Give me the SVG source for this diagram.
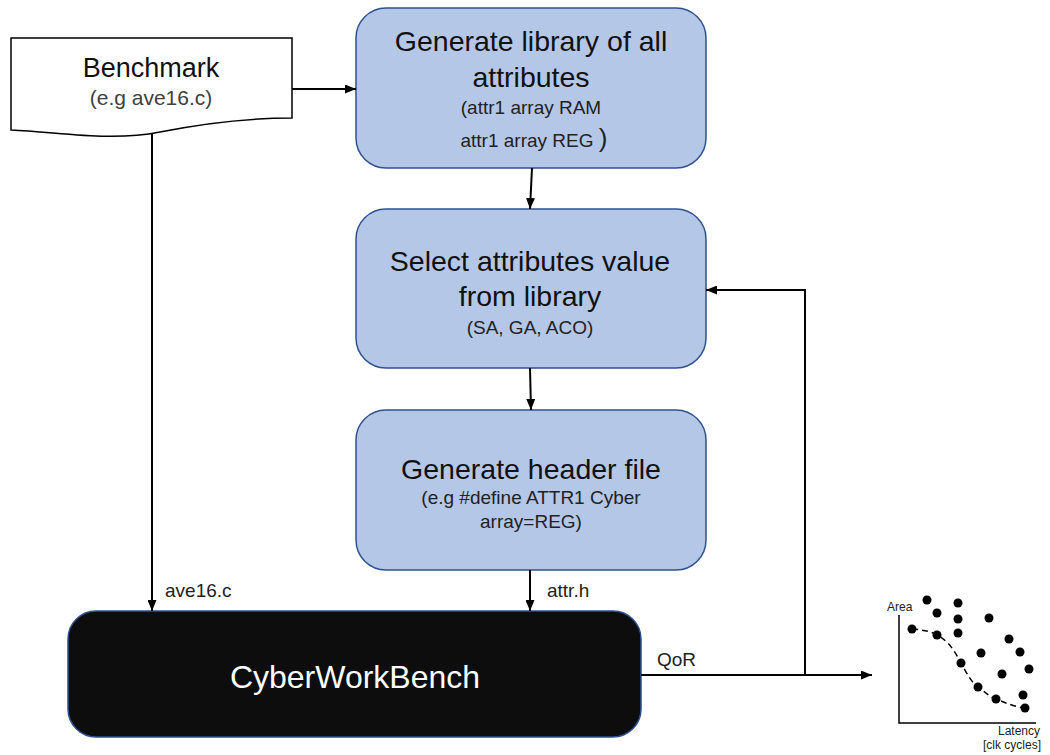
<svg xmlns="http://www.w3.org/2000/svg" width="1050" height="755" viewBox="0 0 1050 755">
<defs>
<marker id="ah" markerWidth="11" markerHeight="9" refX="11" refY="4.5" orient="auto" markerUnits="userSpaceOnUse">
<path d="M0,0 L11,4.5 L0,9 Z" fill="#000"/>
</marker>
<style>
.box{fill:#b4c7e7;stroke:#2f528f;stroke-width:1.5}
.t{font-family:"Liberation Sans",Arial,sans-serif;fill:#111;text-anchor:middle}
.big{font-size:28.5px}
.sm{font-size:19px;fill:#222}
.lbl{font-family:"Liberation Sans",Arial,sans-serif;font-size:19px;fill:#222}
.ln{stroke:#000;stroke-width:2;fill:none}
.dot{fill:#000}
.ct{font-family:"Liberation Sans",Arial,sans-serif;font-size:12px;fill:#222}
</style>
</defs>
<rect width="1050" height="755" fill="#fff"/>

<g id="benchmark">
<path d="M11,38 L292,38 L292,118 C240,118 200,124 160,132 C110,142 60,132 11,130 Z" fill="#fff" stroke="#000" stroke-width="1.5"/>
<text class="t" x="151" y="77" font-size="27">Benchmark</text>
<text class="t sm" x="151" y="105" font-size="21" style="fill:#404040;font-size:21px">(e.g ave16.c)</text>
</g>

<g id="gen-library">
<rect class="box" x="356" y="8" width="350" height="160" rx="30"/>
<text class="t big" x="531" y="51">Generate library of all</text>
<text class="t big" x="531" y="87">attributes</text>
<text class="t sm" x="531" y="114">(attr1 array RAM</text>
<text class="t sm" x="534" y="147">attr1 array REG <tspan font-size="26">)</tspan></text>
</g>

<g id="select-attr">
<rect class="box" x="356" y="209" width="350" height="159" rx="30"/>
<text class="t big" x="530" y="271">Select attributes value</text>
<text class="t big" x="530" y="306">from library</text>
<text class="t sm" x="530" y="334">(SA, GA, ACO)</text>
</g>

<g id="gen-header">
<rect class="box" x="356" y="410" width="350" height="160" rx="30"/>
<text class="t big" x="531" y="479">Generate header file</text>
<text class="t sm" x="531" y="504">(e.g #define ATTR1 Cyber</text>
<text class="t sm" x="531" y="528">array=REG)</text>
</g>

<g id="cyberworkbench">
<rect x="68" y="611" width="573" height="126" rx="28" fill="#0d0d0d" stroke="#2f528f" stroke-width="1.5"/>
<text class="t" x="355" y="688" font-size="32" style="fill:#fff">CyberWorkBench</text>
</g>

<g id="connectors">
<line class="ln" x1="292" y1="89" x2="356" y2="89" marker-end="url(#ah)"/>
<line class="ln" x1="152" y1="134" x2="152" y2="611" marker-end="url(#ah)"/>
<line class="ln" x1="532" y1="168" x2="530" y2="209" marker-end="url(#ah)"/>
<line class="ln" x1="530" y1="368" x2="531" y2="410" marker-end="url(#ah)"/>
<line class="ln" x1="530" y1="570" x2="530" y2="611" marker-end="url(#ah)"/>
<line class="ln" x1="641" y1="675" x2="872" y2="675" marker-end="url(#ah)"/>
<polyline class="ln" points="805,675 805,290 706,290" marker-end="url(#ah)"/>
<text class="lbl" x="165" y="597">ave16.c</text>
<text class="lbl" x="547" y="597">attr.h</text>
<text class="lbl" x="657" y="666">QoR</text>
</g>

<g id="pareto-chart">
<polyline points="899,615 899,723 1036,723" fill="none" stroke="#000" stroke-width="1.5"/>
<path d="M912,629 C925,630 932,632 937,635 C950,642 955,652 961,663 C967,674 972,683 978,687 C985,692 990,697 996,699 C1006,703 1015,707 1025,708" fill="none" stroke="#000" stroke-width="1.5" stroke-dasharray="6,4"/>
<g class="dot">
<circle cx="927" cy="600" r="4.5"/>
<circle cx="937" cy="613" r="4.5"/>
<circle cx="958" cy="603" r="4.5"/>
<circle cx="958" cy="619" r="4.5"/>
<circle cx="989" cy="618" r="4.5"/>
<circle cx="912" cy="629" r="4.5"/>
<circle cx="937" cy="635" r="4.5"/>
<circle cx="958" cy="633" r="4.5"/>
<circle cx="1009" cy="639" r="4.5"/>
<circle cx="981" cy="653" r="4.5"/>
<circle cx="1020" cy="652" r="4.5"/>
<circle cx="961" cy="663" r="4.5"/>
<circle cx="1029" cy="669" r="4.5"/>
<circle cx="1002" cy="674" r="4.5"/>
<circle cx="978" cy="687" r="4.5"/>
<circle cx="996" cy="699" r="4.5"/>
<circle cx="1023" cy="695" r="4.5"/>
<circle cx="1025" cy="708" r="4.5"/>
</g>
<text class="ct" x="887" y="611">Area</text>
<text class="ct" x="1040" y="735" text-anchor="end">Latency</text>
<text class="ct" x="1041" y="749" text-anchor="end">[clk cycles]</text>
</g>
</svg>
